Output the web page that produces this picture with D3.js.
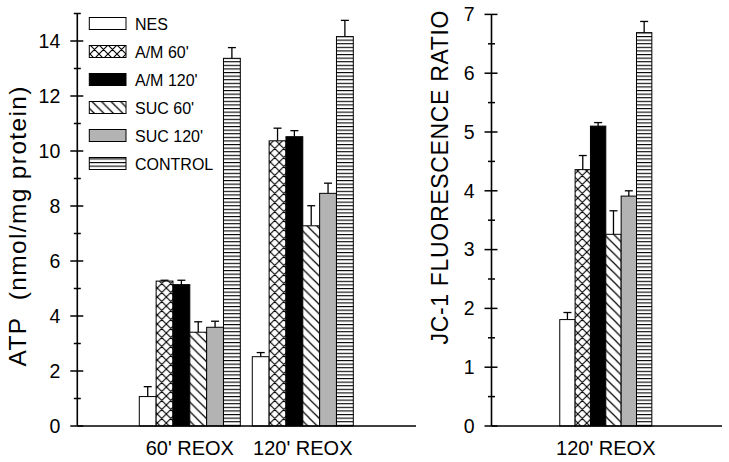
<!DOCTYPE html>
<html>
<head>
<meta charset="utf-8">
<script src="https://cdn.jsdelivr.net/npm/d3@7"></script>
<style>
  html, body { margin: 0; padding: 0; background: #fff; }
  svg { display: block; font-family: "Liberation Sans", Arial, sans-serif; }
</style>
</head>
<body>
<svg id="chart" width="729" height="462"></svg>
<script>
// ---- data ----
const series = ["NES", "A/M 60'", "A/M 120'", "SUC 60'", "SUC 120'", "CONTROL"];
const atpCategories = ["60' REOX", "120' REOX"];
const atp60 = [1.07, 5.27, 5.14, 3.41, 3.59, 13.37];
const atp60Err = [0.36, 0.03, 0.16, 0.38, 0.22, 0.39];
const atp120 = [2.52, 10.37, 10.52, 7.28, 8.46, 14.16];
const atp120Err = [0.15, 0.46, 0.22, 0.73, 0.37, 0.59];
const jcCategories = ["120' REOX"];
const jc1 = [1.81, 4.36, 5.10, 3.26, 3.91, 6.69];
const jc1Err = [0.12, 0.24, 0.06, 0.40, 0.09, 0.19];
const atpTicks = [0, 2, 4, 6, 8, 10, 12, 14];
const atpMinor = [1, 3, 5, 7, 9, 11, 13, 15];
const jcTicks = [0, 1, 2, 3, 4, 5, 6, 7];
const jcMinor = [0.5, 1.5, 2.5, 3.5, 4.5, 5.5, 6.5];

const svg = d3.select("#chart");
const defs = svg.append("defs");

// patterns
function pat(id, w, h, draw) {
  const p = defs.append("pattern").attr("id", id).attr("patternUnits", "userSpaceOnUse")
    .attr("width", w).attr("height", h);
  p.append("rect").attr("width", w).attr("height", h).attr("fill", "#fff");
  draw(p);
}
pat("cross", 9, 9, p => {
  p.append("path").attr("d", "M0,0L9,9M9,0L0,9M-1,8L1,10M8,-1L10,1M-1,1L1,-1M8,10L10,8")
    .attr("stroke", "#000").attr("stroke-width", 1.1);
});
pat("diag", 9.5, 9.5, p => {
  p.append("path").attr("d", "M0,0L9.5,9.5M-1,8.5L1,10.5M8.5,-1L10.5,1")
    .attr("stroke", "#000").attr("stroke-width", 1.2);
});
pat("hstripe", 10, 3.6, p => {
  p.append("rect").attr("x", 0).attr("y", 0).attr("width", 10).attr("height", 1.1).attr("fill", "#000");
});

const fills = ["#ffffff", "url(#cross)", "#000000", "url(#diag)", "#b3b3b3", "url(#hstripe)"];

function drawPanel(opts) {
  const y = d3.scaleLinear().domain(opts.domain).range([426, opts.top]);
  const x0 = d3.scaleBand().domain(opts.categories).range(opts.groupRange).paddingInner(0.106);
  const x1 = d3.scaleBand().domain(series).range([0, x0.bandwidth()]);
  const g = svg.append("g");

  // bars
  opts.categories.forEach((cat, ci) => {
    const vals = opts.values[ci], errs = opts.errors[ci];
    const gg = g.append("g").attr("transform", `translate(${x0(cat)},0)`);
    const bars = gg.selectAll("g.bar").data(series.map((s, i) => ({ s, v: vals[i], e: errs[i], i })))
      .join("g").attr("class", "bar");
    bars.append("line")
      .attr("x1", d => x1(d.s) + x1.bandwidth() / 2).attr("x2", d => x1(d.s) + x1.bandwidth() / 2)
      .attr("y1", d => y(d.v)).attr("y2", d => y(d.v + d.e))
      .attr("stroke", "#000").attr("stroke-width", 1.3);
    bars.append("line")
      .attr("x1", d => x1(d.s) + x1.bandwidth() / 2 - 4).attr("x2", d => x1(d.s) + x1.bandwidth() / 2 + 4)
      .attr("y1", d => y(d.v + d.e)).attr("y2", d => y(d.v + d.e))
      .attr("stroke", "#000").attr("stroke-width", 1.3);
    bars.append("rect")
      .attr("x", d => x1(d.s)).attr("width", x1.bandwidth())
      .attr("y", d => y(d.v)).attr("height", d => 426 - y(d.v))
      .attr("fill", d => fills[d.i]).attr("stroke", "#000").attr("stroke-width", 1);
    g.append("text").attr("x", x0(cat) + x0.bandwidth() / 2).attr("y", 455)
      .attr("text-anchor", "middle").attr("font-size", 20).text(cat);
  });

  // y axis
  const ax = opts.axisX;
  const yAxis = d3.axisLeft(y).tickValues(opts.ticks).tickSize(0).tickPadding(17)
    .tickFormat(d3.format("d"));
  const ag = g.append("g").attr("transform", `translate(${ax},0)`).call(yAxis);
  ag.select(".domain").remove();
  ag.selectAll("text").attr("font-size", 19.5).attr("font-family", "Liberation Sans, Arial, sans-serif").attr("fill", "#000");
  g.append("line").attr("x1", ax).attr("x2", ax).attr("y1", 426).attr("y2", y(opts.domain[1]))
    .attr("stroke", "#000").attr("stroke-width", 1.6);
  g.selectAll("line.major").data(opts.ticks).join("line").attr("class", "major")
    .attr("x1", ax - 7).attr("x2", ax + 6).attr("y1", d => y(d)).attr("y2", d => y(d))
    .attr("stroke", "#000").attr("stroke-width", 1.5);
  g.selectAll("line.minor").data(opts.minor).join("line").attr("class", "minor")
    .attr("x1", ax - 3.5).attr("x2", ax + 3.5).attr("y1", d => y(d)).attr("y2", d => y(d))
    .attr("stroke", "#000").attr("stroke-width", 1.5);
  // x axis
  g.append("line").attr("x1", ax).attr("x2", opts.axisEnd).attr("y1", 426).attr("y2", 426)
    .attr("stroke", "#000").attr("stroke-width", 1.6);
  // title
  const t = g.append("text").attr("transform", `translate(${opts.titleX},${opts.titleY}) rotate(-90)`)
    .attr("text-anchor", "middle").attr("font-size", opts.titleSize)
    .text(opts.title);
  if (opts.titleLength) t.attr("textLength", opts.titleLength).attr("lengthAdjust", "spacing");
}

drawPanel({
  domain: [0, 15], top: 13.5, categories: atpCategories, groupRange: [139.3, 353.3],
  values: [atp60, atp120], errors: [atp60Err, atp120Err], ticks: atpTicks, minor: atpMinor,
  axisX: 77.3, axisEnd: 416, title: "ATP\u00a0\u00a0(nmol/mg protein)", titleX: 26, titleY: 226.5,
  titleSize: 24.5, titleLength: 280
});
drawPanel({
  domain: [0, 7], top: 14.4, categories: jcCategories, groupRange: [554.3, 657.3],
  values: [jc1], errors: [jc1Err], ticks: jcTicks, minor: jcMinor,
  axisX: 491.5, axisEnd: 722, title: "JC-1 FLUORESCENCE RATIO", titleX: 448.3, titleY: 177.5,
  titleSize: 23, titleLength: 334
});

// legend
const lg = svg.append("g");
series.forEach((s, i) => {
  const base = 29.5 + i * 28;
  lg.append("rect").attr("x", 89.3).attr("y", base - 12).attr("width", 36.7).attr("height", 12)
    .attr("fill", fills[i]).attr("stroke", "#000").attr("stroke-width", 1);
  lg.append("text").attr("x", 135).attr("y", base).attr("font-size", 16).text(s);
});
</script>
</body>
</html>
